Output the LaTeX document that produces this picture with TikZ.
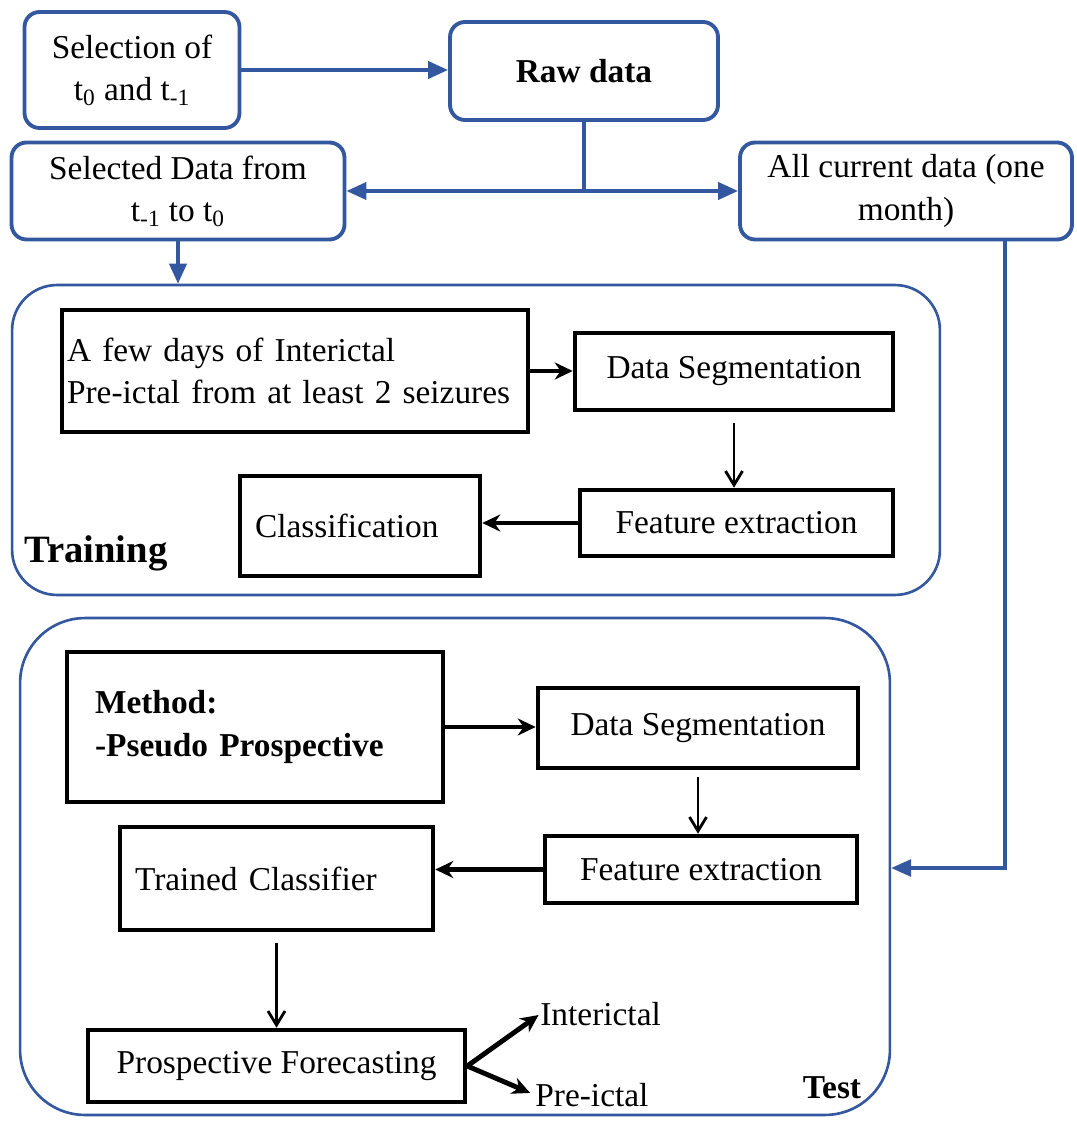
\documentclass[tikz,border=0pt]{standalone}
\usepackage{fontspec}
\setmainfont{Liberation Serif}
\usepackage{xcolor}
\usetikzlibrary{arrows.meta, positioning, calc}

\definecolor{flowblue}{RGB}{52,88,160}

\tikzset{
  bluebox/.style={draw=flowblue, line width=2.2pt, rounded corners=0.3cm,
                  fill=white, align=center, inner sep=2pt},
  blackbox/.style={draw=black, line width=2.6pt, fill=white, align=center, inner sep=2pt},
  stagebox/.style={draw=flowblue, line width=1.5pt},
  bluearrow/.style={flowblue, line width=2.2pt, -{Triangle[length=4mm, width=3.4mm]}},
  thickarrow/.style={black, line width=2.8pt, -{Stealth[length=3.6mm, width=3.4mm]}},
  thinarrow/.style={black, line width=1.6pt, -{Straight Barb[length=2.8mm, width=3.4mm]}},
}

\begin{document}
\begin{tikzpicture}[x=0.02cm, y=-0.02cm, every node/.style={font=\fontsize{19}{24}\selectfont}]
\useasboundingbox (0,0) rectangle (1076,1121);

% ------------------------------------------------------------------
% STAGE FRAMES
% ------------------------------------------------------------------
\node[stagebox, rounded corners=0.9cm, minimum width=18.56cm, minimum height=6.2cm]
  (train) at (476,440) {};
\node[stagebox, rounded corners=1.3cm, minimum width=17.4cm, minimum height=9.94cm]
  (test) at (455,866.5) {};

\node[anchor=west, font=\fontsize{22}{26}\selectfont\bfseries] (trainlbl) at (18,553) {Training};
\node[font=\fontsize{19}{24}\selectfont\bfseries] (testlbl) at (832,1088) {Test};

% ------------------------------------------------------------------
% DATA SELECTION (blue boxes)
% ------------------------------------------------------------------
\node[bluebox, minimum width=4.3cm, minimum height=2.32cm] (sel) at (132,70)
  {Selection of\\t\textsubscript{0} and t\textsubscript{-1}};
\node[bluebox, minimum width=5.36cm, minimum height=1.96cm] (raw) at (584,71)
  {\textbf{Raw data}};
\node[bluebox, minimum width=6.66cm, minimum height=1.94cm] (seld) at (178,191)
  {Selected Data from\\t\textsubscript{-1} to t\textsubscript{0}};
\node[bluebox, minimum width=6.64cm, minimum height=1.94cm] (allc) at (906,191)
  {All current data (one\\month)};

\coordinate (junc) at (raw.south |- seld.east);
\coordinate (drop) at ($(allc.south)+(99,0)$);

\draw[bluearrow] (sel.east) -- (sel.east -| raw.west);
\draw[flowblue, line width=2.2pt] (raw.south) -- (junc);
\draw[bluearrow] (junc) -- (seld.east);
\draw[bluearrow] (junc) -- (allc.west);
\draw[bluearrow] (seld.south) -- (seld.south |- train.north);
\draw[bluearrow, line width=1.8pt] (drop) |- (test.east |- 0,868);

% ------------------------------------------------------------------
% TRAINING
% ------------------------------------------------------------------
\node[blackbox, align=left, inner xsep=0.1cm, text width=9.12cm, minimum height=2.44cm]
  (few) at (295,371) {A few days of Interictal\\Pre-ictal from at least 2 seizures};
\node[blackbox, minimum width=6.36cm, minimum height=1.54cm] (dseg1) at (734,371.5)
  {Data Segmentation};
\node[blackbox, minimum width=6.26cm, minimum height=1.32cm] (feat1) at (736.5,523)
  {Feature extraction};
\node[blackbox, align=left, inner xsep=0.3cm, text width=4.2cm, minimum height=2.0cm]
  (cls1) at (360,526) {Classification};

\draw[thickarrow] (few.east) -- (few.east -| dseg1.west);
\draw[thinarrow, shorten <=6pt] (dseg1.south) -- (dseg1.south |- feat1.north);
\draw[thickarrow] (feat1.west) -- (feat1.west -| cls1.east);

% ------------------------------------------------------------------
% TEST
% ------------------------------------------------------------------
\node[blackbox, align=left, inner xsep=0.56cm, text width=6.4cm, minimum height=3.0cm,
      font=\fontsize{19}{24}\selectfont\bfseries]
  (meth) at (255,727) {Method:\\-Pseudo Prospective};
\node[blackbox, minimum width=6.4cm, minimum height=1.6cm] (dseg2) at (698,728)
  {Data Segmentation};
\node[blackbox, minimum width=6.24cm, minimum height=1.34cm] (feat2) at (701,869.5)
  {Feature extraction};
\node[blackbox, align=left, inner xsep=0.3cm, text width=5.66cm, minimum height=2.06cm]
  (trcl) at (276.5,878.5) {Trained Classifier};
\node[blackbox, minimum width=7.54cm, minimum height=1.44cm] (prosp) at (276.5,1066)
  {Prospective Forecasting};

\node[anchor=west, inner sep=0pt] (inter) at (540,1014) {Interictal};
\node[anchor=west, inner sep=0pt] (pre) at (535,1095) {Pre-ictal};

\draw[thickarrow] (meth.east) -- (meth.east -| dseg2.west);
\draw[thinarrow, shorten <=4pt] (dseg2.south) -- (dseg2.south |- feat2.north);
\draw[thickarrow] (feat2.west) -- (feat2.west -| trcl.east);
\draw[thinarrow, shorten <=6pt] (trcl.south) -- (trcl.south |- prosp.north);
\draw[thickarrow, shorten >=1pt] (prosp.east) -- (inter.west);
\draw[thickarrow, shorten >=3pt] (prosp.east) -- (pre.west);

\end{tikzpicture}
\end{document}
